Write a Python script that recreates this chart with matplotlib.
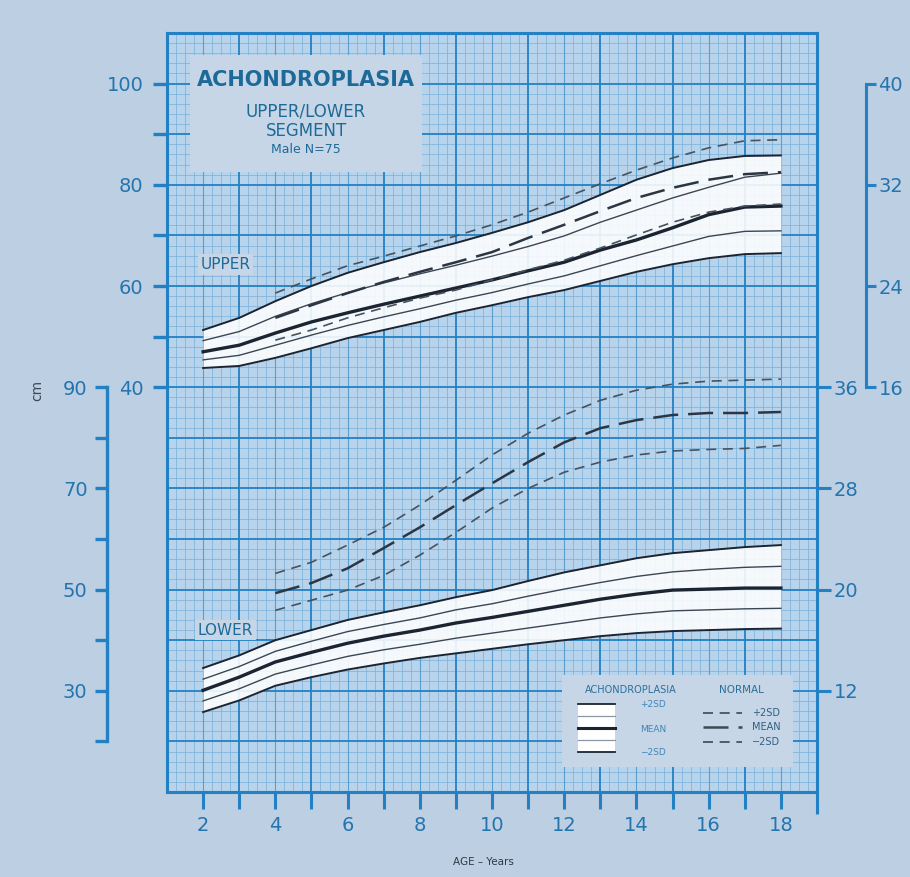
import matplotlib
matplotlib.use("Agg")
import matplotlib.pyplot as plt
from matplotlib.patches import Rectangle
import numpy as np

# ---- data (cm) ----
ages = list(range(2, 19))
upper_ach_p2 = [51.3, 53.7, 57.0, 60.0, 62.6, 64.7, 66.7, 68.5, 70.5, 72.6, 75.0, 78.0, 81.0, 83.3, 84.9, 85.7, 85.8]
upper_ach_p1 = [49.2, 51.0, 54.0, 56.5, 58.7, 60.6, 62.4, 64.1, 65.9, 67.8, 69.9, 72.6, 75.0, 77.4, 79.5, 81.5, 82.3]
upper_ach_mean = [47.0, 48.3, 50.7, 52.9, 54.7, 56.4, 58.0, 59.6, 61.2, 63.0, 64.7, 67.1, 69.1, 71.5, 74.1, 75.6, 75.8]
upper_ach_m1 = [45.4, 46.3, 48.3, 50.3, 52.2, 53.9, 55.5, 57.2, 58.7, 60.4, 62.0, 64.0, 66.0, 67.9, 69.8, 70.8, 70.9]
upper_ach_m2 = [43.8, 44.2, 45.8, 47.7, 49.7, 51.3, 52.9, 54.7, 56.2, 57.8, 59.2, 61.0, 62.8, 64.3, 65.5, 66.3, 66.5]

lower_ach_p2 = [34.5, 37.0, 40.0, 42.0, 44.0, 45.5, 46.9, 48.5, 49.9, 51.7, 53.4, 54.8, 56.2, 57.2, 57.8, 58.4, 58.8]
lower_ach_p1 = [32.3, 34.8, 37.8, 39.8, 41.7, 43.1, 44.4, 46.0, 47.2, 48.7, 50.1, 51.4, 52.6, 53.5, 54.0, 54.4, 54.6]
lower_ach_mean = [30.1, 32.7, 35.7, 37.6, 39.4, 40.8, 42.0, 43.4, 44.5, 45.7, 46.9, 48.1, 49.1, 49.9, 50.1, 50.3, 50.3]
lower_ach_m1 = [28.0, 30.4, 33.3, 35.1, 36.8, 38.1, 39.2, 40.4, 41.4, 42.4, 43.4, 44.4, 45.2, 45.8, 46.0, 46.2, 46.3]
lower_ach_m2 = [25.8, 28.1, 31.0, 32.7, 34.2, 35.4, 36.5, 37.4, 38.3, 39.2, 40.0, 40.8, 41.4, 41.8, 42.0, 42.2, 42.3]

norm_ages = list(range(4, 19))
upper_norm_p2 = [58.6, 61.4, 64.0, 65.9, 67.9, 69.9, 72.1, 74.6, 77.4, 80.2, 82.9, 85.3, 87.3, 88.7, 88.9]
upper_norm_mean = [53.7, 56.2, 58.6, 60.8, 62.8, 64.7, 66.7, 69.5, 72.1, 74.8, 77.4, 79.4, 81.0, 82.1, 82.5]
upper_norm_m2 = [49.3, 51.3, 53.7, 55.7, 57.6, 59.2, 61.2, 63.2, 65.1, 67.5, 70.1, 72.6, 74.6, 75.8, 76.2]

lower_norm_p2 = [53.2, 55.4, 58.8, 62.3, 66.7, 71.6, 76.6, 80.9, 84.5, 87.4, 89.4, 90.6, 91.2, 91.4, 91.6]
lower_norm_mean = [49.3, 51.3, 54.2, 58.2, 62.3, 66.7, 71.0, 75.2, 79.1, 81.9, 83.5, 84.5, 84.9, 84.9, 85.1]
lower_norm_m2 = [45.9, 47.9, 49.9, 52.8, 56.8, 61.3, 66.1, 70.0, 73.2, 75.2, 76.6, 77.4, 77.7, 77.9, 78.5]

# lower segment is plotted on a scale shifted by 50 cm
LOWER_SHIFT = 50

BG = "#bccfe3"
PLOT_BG = "#b8d3ec"
BLUE = "#2381c3"
MINOR = "#78b0da"
TXT = "#2474ad"
DARK = "#1b2430"
BOX = "#c6d6e6"

W, H = 910, 877


def fig_box(x0, y0, x1, y1):
    return [x0 / W, 1 - y1 / H, (x1 - x0) / W, (y1 - y0) / H]


fig = plt.figure(figsize=(9.1, 8.77), dpi=100, facecolor=BG)
ax = fig.add_axes(fig_box(167, 33, 817, 792))
ax.set_xlim(1, 19)
ax.set_ylim(-40, 110)
ax.set_facecolor(PLOT_BG)

# graph paper
for x in np.arange(1, 19.001, 0.25):
    if abs(x - round(x)) < 1e-6 and round(x) % 2 == 1:
        ax.axvline(x, color=BLUE, lw=1.3, zorder=1)
    elif abs(x - round(x)) < 1e-6:
        ax.axvline(x, color="#5a9fd0", lw=0.8, zorder=1)
    else:
        ax.axvline(x, color=MINOR, lw=0.5, zorder=0.5)
for y in np.arange(-40, 110.001, 2):
    if abs(y % 10) < 1e-6:
        ax.axhline(y, color=BLUE, lw=1.3, zorder=1)
    else:
        ax.axhline(y, color=MINOR, lw=0.5, zorder=0.5)


def draw_band(p2, p1, mean, m1, m2, shift=0):
    a = np.array(ages)
    ax.fill_between(a, np.array(m2) - shift, np.array(p2) - shift,
                    color="white", alpha=0.88, lw=0, zorder=2)
    for s, lw, c in [(p2, 1.4, DARK), (p1, 1.0, "#3b4652"), (mean, 2.4, DARK),
                     (m1, 1.0, "#3b4652"), (m2, 1.4, DARK)]:
        ax.plot(a, np.array(s) - shift, color=c, lw=lw, zorder=3)


def draw_normal(p2, mean, m2, shift=0):
    a = np.array(norm_ages)
    ax.plot(a, np.array(p2) - shift, color="#46525e", lw=1.2,
            dashes=(6, 4), zorder=3)
    ax.plot(a, np.array(mean) - shift, color="#2c3642", lw=1.8,
            dashes=(10, 4), zorder=3)
    ax.plot(a, np.array(m2) - shift, color="#46525e", lw=1.2,
            dashes=(6, 4), zorder=3)


draw_band(upper_ach_p2, upper_ach_p1, upper_ach_mean, upper_ach_m1, upper_ach_m2)
draw_band(lower_ach_p2, lower_ach_p1, lower_ach_mean, lower_ach_m1, lower_ach_m2, LOWER_SHIFT)
draw_normal(upper_norm_p2, upper_norm_mean, upper_norm_m2)
draw_normal(lower_norm_p2, lower_norm_mean, lower_norm_m2, LOWER_SHIFT)

# frame and main ticks
for sp in ax.spines.values():
    sp.set_color(BLUE)
    sp.set_linewidth(2.2)
ax.set_xticks(ages)
ax.set_xticklabels([str(a) if a % 2 == 0 else "" for a in ages])
ax.set_xticks([19], minor=True)
ax.tick_params(axis="x", which="major", length=12, width=2.2, color=BLUE,
               labelcolor=TXT, labelsize=14, pad=5)
ax.tick_params(axis="x", which="minor", length=16, width=2.2, color=BLUE)
ax.set_yticks(range(40, 101, 10))
ax.set_yticklabels(["40", "", "60", "", "80", "", "100"])
ax.tick_params(axis="y", length=10, width=2.4, color=BLUE, labelcolor=TXT,
               labelsize=14, pad=7)

# lower left scale (lower segment, cm)
axL = fig.add_axes(fig_box(107, 33, 108, 792))
axL.set_ylim(-40 + LOWER_SHIFT, 110 + LOWER_SHIFT)
axL.patch.set_visible(False)
for k in ["top", "right", "bottom"]:
    axL.spines[k].set_visible(False)
axL.spines["left"].set_bounds(20, 90)
axL.spines["left"].set_color(BLUE)
axL.spines["left"].set_linewidth(2.4)
axL.set_xticks([])
axL.set_yticks(range(20, 91, 10))
axL.set_yticklabels(["", "30", "", "50", "", "70", "", "90"])
axL.tick_params(axis="y", length=9, width=2.4, color=BLUE, labelcolor=TXT,
                labelsize=14, pad=5)

# upper right scale (inches)
axR = fig.add_axes(fig_box(865, 33, 866, 792))
axR.set_ylim(-40 / 2.5, 110 / 2.5)
axR.patch.set_visible(False)
for k in ["top", "left", "bottom"]:
    axR.spines[k].set_visible(False)
axR.spines["right"].set_bounds(16, 40)
axR.spines["right"].set_color(BLUE)
axR.spines["right"].set_linewidth(2.2)
axR.set_xticks([])
axR.yaxis.tick_right()
axR.set_yticks([16, 24, 32, 40])
axR.tick_params(axis="y", length=7, width=2.2, color=BLUE, labelcolor=TXT,
                labelsize=14, pad=2)

# lower right scale (inches)
axR2 = ax.twinx()
axR2.set_ylim((-40 + LOWER_SHIFT) / 2.5, (110 + LOWER_SHIFT) / 2.5)
for sp in axR2.spines.values():
    sp.set_visible(False)
axR2.set_yticks([12, 20, 28, 36])
axR2.tick_params(axis="y", length=10, width=2.2, color=BLUE, labelcolor=TXT,
                 labelsize=14, pad=2)

# title box
ax.add_patch(Rectangle((1.64, 82.5), 6.42, 23.2, facecolor=BOX,
                       edgecolor="none", zorder=4))
ax.text(4.85, 100.7, "ACHONDROPLASIA", ha="center", va="center", fontsize=15,
        fontweight="bold", color="#1d6a99", zorder=5)
ax.text(4.85, 94.4, "UPPER/LOWER", ha="center", va="center", fontsize=12,
        color="#1d6a99", zorder=5)
ax.text(4.85, 90.7, "SEGMENT", ha="center", va="center", fontsize=12,
        color="#1d6a99", zorder=5)
ax.text(4.85, 86.9, "Male N=75", ha="center", va="center", fontsize=9,
        color="#1d6a99", zorder=5)

# segment labels
for txt, y in [("UPPER", 64.2), ("LOWER", -8.0)]:
    ax.text(2.62, y, txt, ha="center", va="center", fontsize=11,
            color="#1d6a99", zorder=5,
            bbox=dict(facecolor=BOX, edgecolor="none", pad=2))

# legend box
ax.add_patch(Rectangle((11.94, -35.1), 6.4, 18.2, facecolor=BOX,
                       edgecolor="none", zorder=4))
ax.text(13.85, -19.8, "ACHONDROPLASIA", ha="center", va="center", fontsize=7,
        color="#2a6f9c", zorder=5)
ax.text(16.9, -19.8, "NORMAL", ha="center", va="center", fontsize=7.5,
        color="#2a6f9c", zorder=5)
ax.add_patch(Rectangle((12.38, -32.1), 1.02, 9.5, facecolor="white",
                       edgecolor="none", zorder=5))
for y, lw, c in [(-22.6, 1.3, DARK), (-25.0, 0.9, "#8a98a6"), (-27.4, 2.2, DARK),
                 (-29.8, 0.9, "#8a98a6"), (-32.1, 1.3, DARK)]:
    ax.plot([12.38, 13.40], [y, y], color=c, lw=lw, zorder=6)
for txt, y in [("+2SD", -22.8), ("MEAN", -27.6), ("\u22122SD", -32.1)]:
    ax.text(14.1, y, txt, ha="left", va="center", fontsize=6.5,
            color="#3f86b8", zorder=5)
for y, lw, d in [(-24.4, 1.2, (6, 4)), (-27.2, 1.8, (10, 4)), (-30.2, 1.2, (6, 4))]:
    ax.plot([15.84, 16.92], [y, y], color="#3c4855", lw=lw, dashes=d, zorder=6)
for txt, y in [("+2SD", -24.4), ("MEAN", -27.2), ("\u22122SD", -30.2)]:
    ax.text(17.2, y, txt, ha="left", va="center", fontsize=7,
            color="#2f5f85", zorder=5)

fig.text(37 / W, 1 - 390 / H, "cm", rotation=90, ha="center", va="center",
         fontsize=10, color="#3a4a58")
fig.text(483 / W, 1 - 862 / H, "AGE \u2013 Years", ha="center", va="center",
         fontsize=7.5, color="#2f3a44")

fig.savefig("out.png", dpi=100, facecolor=BG)
